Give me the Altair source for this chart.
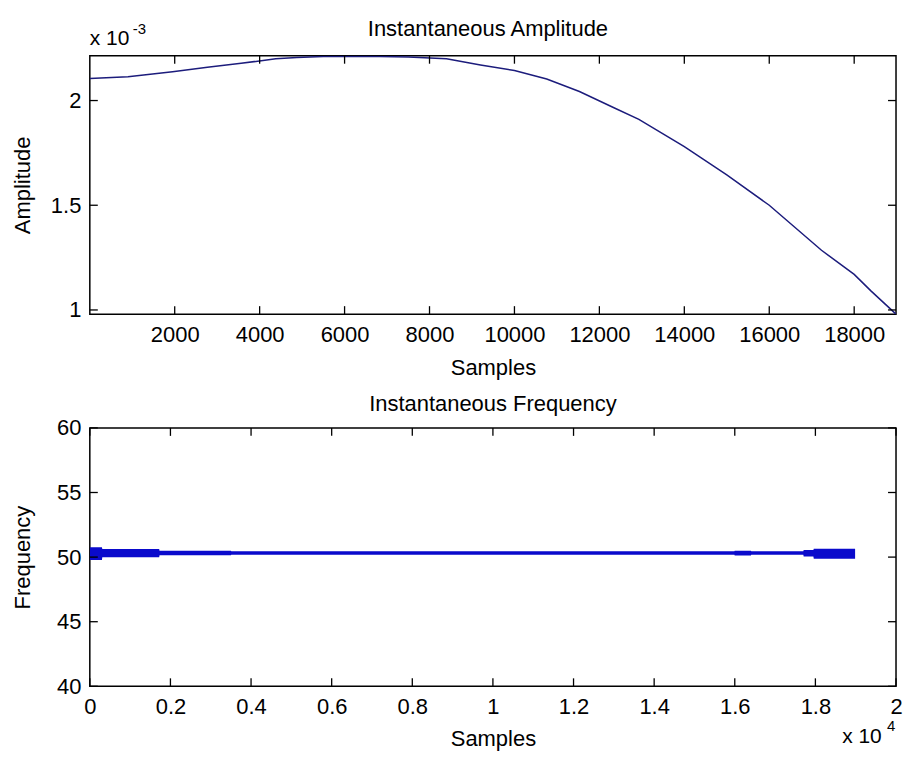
import altair as alt
import pandas as pd

FONT = "Liberation Sans"
W, H = 808, 259
TL = 8  # inward tick length

# ---------------- data: instantaneous amplitude ----------------
amp_samples = [1, 900, 1950, 2770, 3565, 4380, 4875, 5500, 6500, 7500, 8400, 9200,
               10000, 10760, 11530, 12330, 12930, 14000, 15000, 16000, 17230, 18000,
               18400, 18985]
amp_values = [2.105e-3, 2.114e-3, 2.138e-3, 2.159e-3, 2.178e-3, 2.199e-3, 2.205e-3,
              2.210e-3, 2.212e-3, 2.208e-3, 2.199e-3, 2.170e-3, 2.143e-3, 2.103e-3,
              2.043e-3, 1.967e-3, 1.910e-3, 1.780e-3, 1.645e-3, 1.500e-3, 1.285e-3,
              1.170e-3, 1.090e-3, 0.980e-3]
amp_x_domain = [1, 18985]
amp_y_domain = [0.98e-3, 2.214e-3]
amp_x_ticks = [2000, 4000, 6000, 8000, 10000, 12000, 14000, 16000, 18000]
amp_y_ticks = [1.0e-3, 1.5e-3, 2.0e-3]

# ---------------- data: instantaneous frequency (band envelope) ----------------
freq_samples = [1, 300, 310, 1720, 1730, 3500, 3510, 15990, 16000, 16400, 16410,
                17700, 17710, 17950, 17960, 18985]
freq_low = [49.78, 49.78, 49.99, 49.99, 50.15, 50.15, 50.19, 50.19, 50.12, 50.12,
            50.19, 50.19, 50.05, 50.05, 49.87, 49.87]
freq_high = [50.76, 50.76, 50.63, 50.63, 50.50, 50.50, 50.45, 50.45, 50.50, 50.50,
             50.45, 50.45, 50.55, 50.55, 50.64, 50.64]
freq_x_domain = [0, 20000]
freq_y_domain = [40, 60]
freq_x_ticks = [0, 2000, 4000, 6000, 8000, 10000, 12000, 14000, 16000, 18000, 20000]
freq_y_ticks = [40, 45, 50, 55, 60]

titles = ["Instantaneous Amplitude", "Instantaneous Frequency"]

amp_df = pd.DataFrame({"s": amp_samples, "a": amp_values})
freq_df = pd.DataFrame({"s": freq_samples, "lo": freq_low, "hi": freq_high})

axis_common = dict(ticks=False, domain=False, grid=False, labelFont=FONT,
                   labelFontSize=22, labelColor="black", titleFont=FONT,
                   titleFontSize=22, titleFontWeight="normal", titleColor="black",
                   labelFlush=False, labelOverlap=False)


def tick_layers(xvals, yvals, xscale, yscale, xaxis, yaxis):
    xt = pd.DataFrame({"s": xvals})
    yt = pd.DataFrame({"v": yvals})
    base_x = alt.Chart(xt).mark_rule(color="black", strokeWidth=1.3)
    base_y = alt.Chart(yt).mark_rule(color="black", strokeWidth=1.3)
    xs = alt.X("s:Q", scale=xscale, axis=xaxis)
    ys = alt.Y("v:Q", scale=yscale, axis=yaxis)
    return [
        base_x.encode(x=xs, y=alt.value(H), y2=alt.value(H - TL)),
        base_x.encode(x=xs, y=alt.value(0), y2=alt.value(TL)),
        base_y.encode(y=ys, x=alt.value(0), x2=alt.value(TL)),
        base_y.encode(y=ys, x=alt.value(W), x2=alt.value(W - TL)),
    ]


def text_layer(txt, x0, y0, size, align="left"):
    return alt.Chart(pd.DataFrame({"t": [txt]})).mark_text(
        align=align, baseline="alphabetic", font=FONT, fontSize=size, color="black"
    ).encode(text="t:N", x=alt.value(x0), y=alt.value(y0))


def exp_text(base, sup, x0, y0, dx, dy):
    return [text_layer(base, x0, y0, 21), text_layer(sup, x0 + dx, y0 - dy, 15)]


anchor = alt.Chart(pd.DataFrame({"k": [0]})).mark_rect(opacity=0).encode(
    x=alt.value(-81), x2=alt.value(-80), y=alt.value(-46), y2=alt.value(-45)
)

# ---------------- top panel ----------------
ax_scale = alt.Scale(domain=amp_x_domain, nice=False, zero=False)
ay_scale = alt.Scale(domain=amp_y_domain, nice=False, zero=False)
amp_xaxis = alt.Axis(values=amp_x_ticks, format="d", title="Samples",
                     labelPadding=10, titleY=43, **axis_common)
amp_yaxis = alt.Axis(values=amp_y_ticks, labelExpr="format(datum.value*1000, '.1~f')",
                     title="Amplitude", labelPadding=9, titleX=-67, titleY=H / 2,
                     titleBaseline="middle", **axis_common)

amp_line = alt.Chart(amp_df).mark_line(color="#1c1c7c", strokeWidth=1.5, clip=True).encode(
    x=alt.X("s:Q", scale=ax_scale, axis=amp_xaxis),
    y=alt.Y("a:Q", scale=ay_scale, axis=amp_yaxis),
)

top = alt.layer(
    anchor, amp_line,
    *tick_layers(amp_x_ticks, amp_y_ticks, ax_scale, ay_scale, amp_xaxis, amp_yaxis),
    *exp_text("x 10", "-3", 0, -11, 43, 11),
    text_layer(titles[0], W / 2 - 5, -20, 22, align="center"),
).properties(width=W, height=H)

# ---------------- bottom panel ----------------
fx_scale = alt.Scale(domain=freq_x_domain, nice=False, zero=False)
fy_scale = alt.Scale(domain=freq_y_domain, nice=False, zero=False)
freq_xaxis = alt.Axis(values=freq_x_ticks, labelExpr="format(datum.value/10000, '.1~f')",
                      title="Samples", labelPadding=10, titleY=42, **axis_common)
freq_yaxis = alt.Axis(values=freq_y_ticks, format="d", title="Frequency",
                      labelPadding=9, titleX=-67, titleY=H / 2,
                      titleBaseline="middle", **axis_common)

freq_band = alt.Chart(freq_df).mark_area(color="#0a0acc", opacity=1, clip=True).encode(
    x=alt.X("s:Q", scale=fx_scale, axis=freq_xaxis),
    y=alt.Y("lo:Q", scale=fy_scale, axis=freq_yaxis),
    y2="hi:Q",
)

bottom = alt.layer(
    freq_band,
    *tick_layers(freq_x_ticks, freq_y_ticks, fx_scale, fy_scale, freq_xaxis, freq_yaxis),
    *exp_text("x 10", "4", W - 54, 316, 45, 12),
    text_layer(titles[1], W / 2, -17, 22, align="center"),
).properties(width=W, height=H)

chart = alt.vconcat(top, bottom, spacing=114, bounds="flush").properties(
    padding=0
).configure(font=FONT).configure_view(stroke="black", strokeWidth=1.5)

chart.save("out.html", embed_options={"renderer": "svg", "actions": False})
